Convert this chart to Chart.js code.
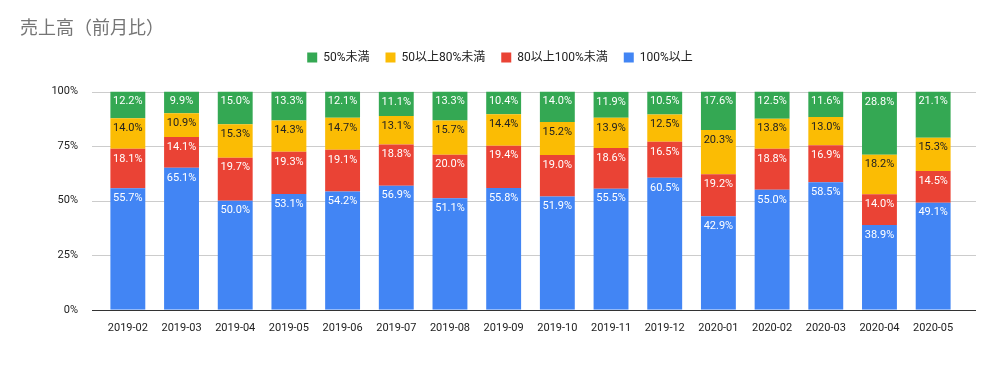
<!DOCTYPE html>
<html>
<head>
<meta charset="utf-8">
<script src="https://cdn.jsdelivr.net/npm/chart.js@4"></script>
<style>
  html, body { margin: 0; padding: 0; background: #fff; }
  #wrap { width: 1000px; height: 384px; }
</style>
</head>
<body>
<div id="wrap"><canvas id="chart"></canvas></div>
<script>
const months = ['2019-02', '2019-03', '2019-04', '2019-05', '2019-06', '2019-07', '2019-08', '2019-09',
    '2019-10', '2019-11', '2019-12', '2020-01', '2020-02', '2020-03', '2020-04', '2020-05'];
const over100 = [55.7, 65.1, 50.0, 53.1, 54.2, 56.9, 51.1, 55.8, 51.9, 55.5, 60.5, 42.9, 55.0, 58.5, 38.9, 49.1];
const from80to100 = [18.1, 14.1, 19.7, 19.3, 19.1, 18.8, 20.0, 19.4, 19.0, 18.6, 16.5, 19.2, 18.8, 16.9, 14.0, 14.5];
const from50to80 = [14.0, 10.9, 15.3, 14.3, 14.7, 13.1, 15.7, 14.4, 15.2, 13.9, 12.5, 20.3, 13.8, 13.0, 18.2, 15.3];
const under50 = [12.2, 9.9, 15.0, 13.3, 12.1, 11.1, 13.3, 10.4, 14.0, 11.9, 10.5, 17.6, 12.5, 11.6, 28.8, 21.1];
const yTicks = [0, 25, 50, 75, 100];

const FONT = "Roboto, 'Noto Sans CJK JP', sans-serif";

// grid lines drawn a bit wider than the plot area, like the original
const gridPlugin = {
    id: 'wideGrid',
    beforeDatasetsDraw(chart) {
        const ctx = chart.ctx;
        const area = chart.chartArea;
        const y = chart.scales.y;
        ctx.save();
        yTicks.forEach(function (t) {
            const py = Math.round(y.getPixelForValue(t)) + 0.5;
            ctx.strokeStyle = t === 0 ? '#333333' : '#cccccc';
            ctx.lineWidth = 1;
            ctx.beginPath();
            ctx.moveTo(area.left - 9, py);
            ctx.lineTo(area.right + 16, py);
            ctx.stroke();
        });
        ctx.restore();
    }
};

// value labels near the top of each segment
const labelPlugin = {
    id: 'segLabels',
    afterDatasetsDraw(chart) {
        const ctx = chart.ctx;
        ctx.save();
        ctx.font = '11px ' + FONT;
        ctx.textAlign = 'center';
        ctx.textBaseline = 'middle';
        chart.data.datasets.forEach(function (ds, i) {
            const meta = chart.getDatasetMeta(i);
            meta.data.forEach(function (bar, j) {
                ctx.fillStyle = ds.labelColor;
                ctx.fillText(ds.data[j].toFixed(1) + '%', bar.x, bar.y + 10);
            });
        });
        ctx.restore();
    }
};

new Chart(document.getElementById('chart').getContext('2d'), {
    type: 'bar',
    data: {
        labels: months,
        datasets: [
            { label: '100%以上', data: over100, backgroundColor: '#4285F4', labelColor: '#ffffff' },
            { label: '80以上100%未満', data: from80to100, backgroundColor: '#EA4335', labelColor: '#ffffff' },
            { label: '50以上80%未満', data: from50to80, backgroundColor: '#FBBC04', labelColor: '#222222' },
            { label: '50%未満', data: under50, backgroundColor: '#34A853', labelColor: '#ffffff' }
        ]
    },
    options: {
        responsive: true,
        maintainAspectRatio: false,
        animation: false,
        datasets: {
            bar: { categoryPercentage: 1, barPercentage: 0.65 }
        },
        layout: { padding: { left: 20, right: 20, top: 0, bottom: 45 } },
        scales: {
            x: {
                stacked: true,
                grid: { display: false },
                border: { display: false },
                ticks: { color: '#222222', font: { family: FONT, size: 11 }, padding: 4, maxRotation: 0 }
            },
            x2: {
                position: 'top',
                type: 'category',
                labels: [''],
                grid: { display: false },
                border: { display: false },
                ticks: { display: false },
                afterFit: function (scale) { scale.height = 18; }
            },
            y: {
                stacked: true,
                min: 0,
                max: 100,
                grid: { display: false },
                border: { display: false },
                afterFit: function (scale) { scale.width = 81; },
                ticks: {
                    stepSize: 25,
                    padding: 15,
                    color: '#222222',
                    font: { family: FONT, size: 11 },
                    callback: function (v) { return v + '%'; }
                }
            },
            y2: {
                position: 'right',
                min: 0,
                max: 1,
                grid: { display: false },
                border: { display: false },
                ticks: { display: false },
                afterFit: function (scale) { scale.width = 20; }
            }
        },
        plugins: {
            title: {
                display: true,
                text: '売上高（前月比）',
                align: 'start',
                color: '#757575',
                font: { family: FONT, size: 18, weight: 'normal' },
                padding: { top: 19, bottom: -5 }
            },
            legend: {
                reverse: true,
                labels: {
                    boxWidth: 10,
                    boxHeight: 10,
                    color: '#222222',
                    font: { family: FONT, size: 12 },
                    padding: 16
                }
            },
            tooltip: { enabled: false }
        }
    },
    plugins: [gridPlugin, labelPlugin]
});
</script>
</body>
</html>
